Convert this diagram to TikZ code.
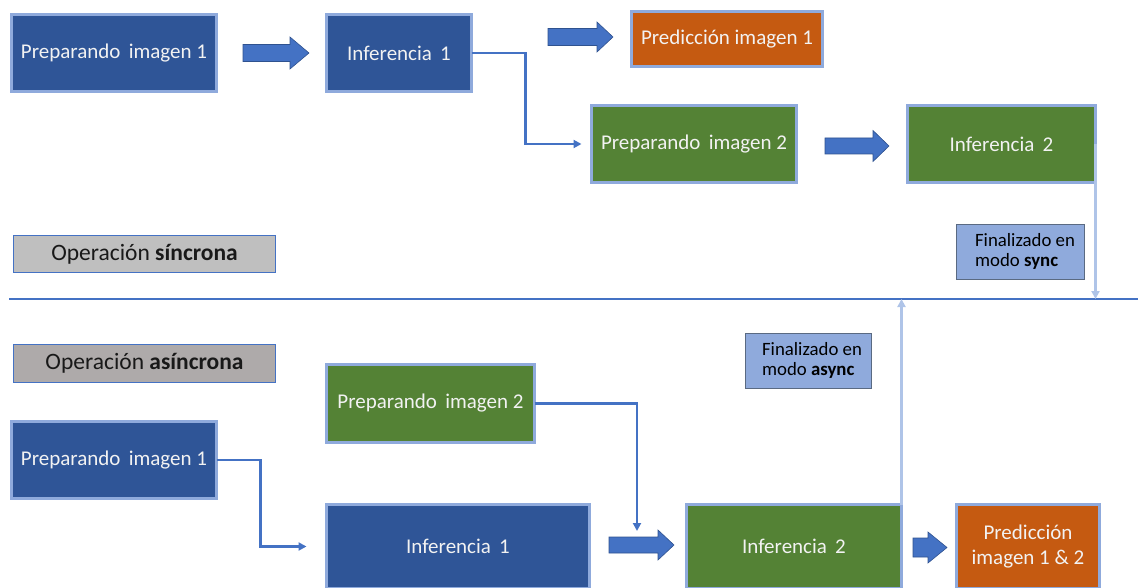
\documentclass[tikz,border=0pt]{standalone}
\usepackage{fontspec}
\setmainfont{Carlito}
\usetikzlibrary{arrows.meta,calc}

\definecolor{stageblue}{HTML}{2F5597}
\definecolor{stagegreen}{HTML}{548235}
\definecolor{stageorange}{HTML}{C55A11}
\definecolor{rimblue}{HTML}{8FAADC}
\definecolor{linkblue}{HTML}{4472C4}
\definecolor{arrowrim}{HTML}{2F528F}
\definecolor{paleline}{HTML}{AFC4E8}
\definecolor{notefill}{HTML}{8FAADC}
\definecolor{noterim}{HTML}{5A6A82}
\definecolor{syncgray}{HTML}{BFBFBF}
\definecolor{asyncgray}{HTML}{AEAAAA}

\tikzset{
  stage/.style={draw=rimblue, line width=3pt, text=white!95!black, inner sep=0pt,
    outer sep=0pt, anchor=north west, align=center,
    font=\fontsize{21}{25}\selectfont},
  mode/.style={draw=linkblue, line width=1.5pt, text=black!90, inner sep=0pt,
    outer sep=0pt, anchor=north west, font=\fontsize{23.5}{28}\selectfont},
  note/.style={draw=noterim, fill=notefill, line width=1.2pt, text=black,
    inner sep=0pt, outer sep=0pt, anchor=north west, align=left,
    font=\fontsize{18.8}{22}\selectfont},
  link/.style={draw=linkblue, line width=2.3pt,
    -{Triangle[length=8pt,width=8pt]}},
  done/.style={draw=paleline, line width=2.3pt,
    -{Triangle[length=8pt,width=8pt]}},
  barrow/.style={fill=linkblue, draw=arrowrim, line width=0.6pt},
}

% block arrow: start x, tip x, centre y, shaft half height, head half height, head length
\newcommand{\blockarrow}[6]{%
  \filldraw[barrow] (#1,#3-#4) -- (#2-#6,#3-#4) -- (#2-#6,#3-#5) -- (#2,#3)
    -- (#2-#6,#3+#5) -- (#2-#6,#3+#4) -- (#1,#3+#4) -- cycle;}

\begin{document}
\begin{tikzpicture}[x=1pt,y=-1pt]
\useasboundingbox (0,0) rectangle (1138,588);

% ---------- synchronous operation ----------
\node[stage, fill=stageblue, minimum width=205pt, minimum height=77pt] (prep1) at (11.5,14.5) {Preparando\, imagen 1};
\node[stage, fill=stageblue, minimum width=145pt, minimum height=77pt] (inf1) at (326.5,14.5) {Inferencia\, 1};
\node[stage, fill=stageorange, minimum width=191pt, minimum height=55pt] (pred1) at (631.5,11.5) {Predicción imagen 1};
\node[stage, fill=stagegreen, minimum width=205pt, minimum height=77pt] (prep2) at (591.5,105.5) {Preparando\, imagen 2};
\node[stage, fill=stagegreen, minimum width=188pt, minimum height=77pt] (inf2) at (907.5,105.5) {Inferencia\, 2};

\blockarrow{243}{309}{53}{8.5}{16}{19}
\blockarrow{548}{613}{37}{8.5}{15}{16}
\blockarrow{825}{889}{146}{8}{15.5}{16}

\draw[link] (inf1.east) -- ++(54pt,0) |- ([xshift=-10pt]prep2.west);

\node[mode, fill=syncgray, minimum width=262pt, minimum height=37pt] (synclbl) at (13.5,235.5)
  {Operación \textbf{síncrona}};
\node[note, minimum width=128pt, minimum height=55pt] (syncnote) at (956.5,224.5)
  {\hspace*{9pt}\begin{tabular}{@{}l@{}}Finalizado en\\[-2pt]modo \textbf{sync}\end{tabular}};

% separator between both modes
\coordinate (sepL) at (9,299);
\coordinate (sepR) at (1138,299);
\draw[linkblue, line width=1.5pt] (sepL) -- (sepR);

\draw[done] (inf2.east) -- (inf2.east |- sepR);

% ---------- asynchronous operation ----------
\node[mode, fill=asyncgray, minimum width=262pt, minimum height=38pt] (asynclbl) at (13.5,344.5)
  {Operación \textbf{asíncrona}};
\node[note, minimum width=126pt, minimum height=55pt] (asyncnote) at (745.5,333.5)
  {\hspace*{7pt}\begin{tabular}{@{}l@{}}Finalizado en\\[-2pt]modo \textbf{async}\end{tabular}};

\node[stage, fill=stagegreen, minimum width=208pt, minimum height=78pt] (prep2a) at (326.5,364.5) {Preparando\, imagen 2};
\node[stage, fill=stageblue, minimum width=205pt, minimum height=77pt] (prep1a) at (11.5,421.5) {Preparando\, imagen 1};
\node[stage, fill=stageblue, minimum width=263pt, minimum height=84pt] (inf1a) at (326.5,504.5) {Inferencia\, 1};
\node[stage, fill=stagegreen, minimum width=215pt, minimum height=84pt] (inf2a) at (686.5,504.5) {Inferencia\, 2};
\node[stage, fill=stageorange, minimum width=143pt, minimum height=84pt] (pred12) at (956.5,504.5) {Predicción\\imagen 1 \& 2};

\blockarrow{609}{674}{545}{8}{15}{16}
\blockarrow{913}{947}{547.5}{9.5}{15.5}{19}

\draw[link] (prep1a.east) -- ++(44pt,0) |- ([xshift=-20pt]inf1a.west);
\coordinate (merge) at (637,531);
\draw[link] (prep2a.east) -| (merge);

\draw[done] (inf2a.north east) -- (inf2a.north east |- sepR);
\end{tikzpicture}
\end{document}
